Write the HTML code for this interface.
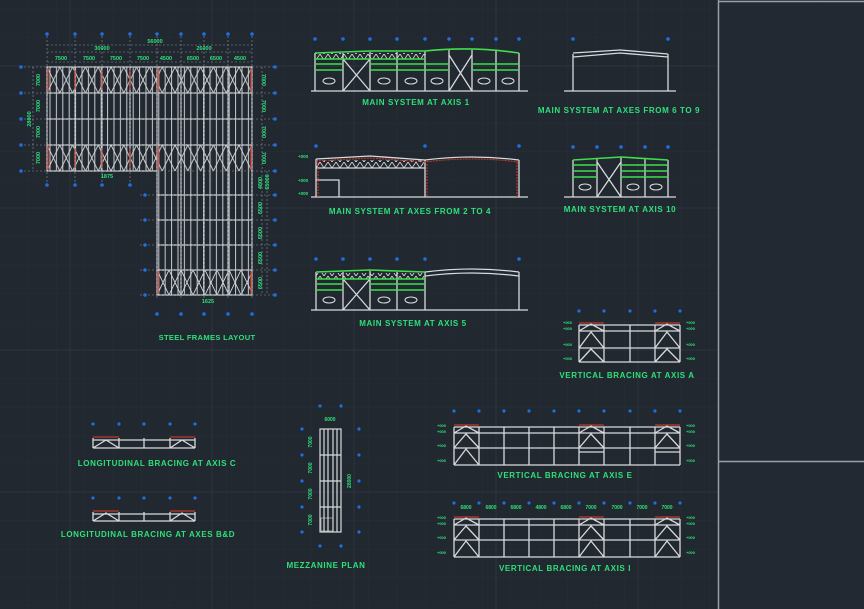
<!DOCTYPE html>
<html><head><meta charset="utf-8"><style>
html,body{margin:0;padding:0;background:#212830;}
svg{display:block}
text{font-family:"Liberation Sans",sans-serif;font-weight:bold;fill:#2ee07a}
</style></head><body>
<svg width="864" height="609" viewBox="0 0 864 609" xmlns="http://www.w3.org/2000/svg">
<defs>
<pattern id="minor" width="28.4" height="28.4" patternUnits="userSpaceOnUse" x="-0.8" y="9.2">
<path d="M0 0H28.4M0 0V28.4" stroke="#262e37" stroke-width="1" fill="none"/></pattern>
<pattern id="purl" width="6.4" height="10" patternUnits="userSpaceOnUse" x="47">
<line x1="3" y1="0" x2="3" y2="10" stroke="#c8ccd0" stroke-width="1"/></pattern>
<pattern id="xb" width="12.8" height="26" patternUnits="userSpaceOnUse" x="47" y="67">
<path d="M0 0L12.8 26M12.8 0L0 26" stroke="#d8dadc" stroke-width="0.9" fill="none"/></pattern>
<pattern id="xb3" width="12" height="25" patternUnits="userSpaceOnUse" x="157" y="270">
<path d="M0 0L12 25M12 0L0 25" stroke="#d8dadc" stroke-width="0.9" fill="none"/></pattern>
<pattern id="truss" width="8" height="6" patternUnits="userSpaceOnUse">
<path d="M0 0L4 6L8 0" stroke="#e0e0e0" stroke-width="0.8" fill="none"/></pattern>
</defs>
<rect width="864" height="609" fill="#212830"/>
<rect width="864" height="609" fill="url(#minor)"/>
<g stroke="#2d3540" stroke-width="1">
<line x1="70" y1="0" x2="70" y2="609"/><line x1="212" y1="0" x2="212" y2="609"/><line x1="354" y1="0" x2="354" y2="609"/><line x1="496" y1="0" x2="496" y2="609"/><line x1="638" y1="0" x2="638" y2="609"/>
<line x1="0" y1="66" x2="864" y2="66"/><line x1="0" y1="208" x2="864" y2="208"/><line x1="0" y1="350" x2="864" y2="350"/><line x1="0" y1="492" x2="864" y2="492"/>
</g>
<rect x="719" y="2" width="145" height="607" fill="#222932"/>
<g stroke="#9aa0a8" stroke-width="1.5"><line x1="718.5" y1="0" x2="718.5" y2="609"/><line x1="718" y1="1.5" x2="864" y2="1.5"/><line x1="718" y1="461.5" x2="864" y2="461.5"/></g>

<!-- STEEL FRAMES LAYOUT -->
<g>
<rect x="47" y="67" width="205" height="104" fill="url(#purl)"/>
<rect x="157" y="171" width="95" height="124" fill="url(#purl)"/>
<rect x="47" y="67" width="205" height="26" fill="url(#xb)"/>
<rect x="47" y="145" width="205" height="26" fill="url(#xb)"/>
<rect x="157" y="270" width="95" height="25" fill="url(#xb3)"/>
<g stroke="#d0d3d6" stroke-width="1.2" fill="none">
<path d="M47 67H252V295H157V171H47Z"/>
<path d="M47 93H252M47 119H252M47 145H252M157 195H252M157 220H252M157 245H252M157 270H252"/>
<path d="M75 67V171M102 67V171M130 67V171M157 67V171M181 67V295M204 67V295M228 67V295"/>
</g>
<g stroke="#c0392b" stroke-width="1.4"><path d="M48 68V92M48 146V170M158 68V92M158 146V170M251 68V92M251 146V170M158 271V294M251 271V294M75 70V90M102 70V90M130 70V90M75 148V168M102 148V168M130 148V168"/></g>
<g stroke="#8a8f95" stroke-width="0.6" stroke-dasharray="2 2" fill="none">
<path d="M47 36V185M75 36V185M102 36V185M130 36V185M157 36V300M181 36V300M204 36V300M228 36V300M252 36V300"/>
<path d="M20 67H275M20 93H275M20 119H275M20 145H275M20 171H275M140 195H275M140 220H275M140 245H275M140 270H275M140 295H275"/>
<path d="M47 45H252M47 52H157M157 52H252M47 62H252"/>
<path d="M33 67V171M267 171V295M262 67V171M262 171V295"/>
</g>
<g fill="#1f6fe0"><circle cx="47" cy="34" r="1.8"/><circle cx="75" cy="34" r="1.8"/><circle cx="102" cy="34" r="1.8"/><circle cx="130" cy="34" r="1.8"/><circle cx="157" cy="34" r="1.8"/><circle cx="181" cy="34" r="1.8"/><circle cx="204" cy="34" r="1.8"/><circle cx="228" cy="34" r="1.8"/><circle cx="252" cy="34" r="1.8"/>
<circle cx="47" cy="185" r="1.8"/><circle cx="75" cy="185" r="1.8"/><circle cx="102" cy="185" r="1.8"/><circle cx="130" cy="185" r="1.8"/>
<circle cx="157" cy="314" r="1.8"/><circle cx="181" cy="314" r="1.8"/><circle cx="204" cy="314" r="1.8"/><circle cx="228" cy="314" r="1.8"/><circle cx="252" cy="314" r="1.8"/>
<circle cx="21" cy="67" r="1.8"/><circle cx="21" cy="93" r="1.8"/><circle cx="21" cy="119" r="1.8"/><circle cx="21" cy="145" r="1.8"/><circle cx="21" cy="171" r="1.8"/>
<circle cx="275" cy="67" r="1.8"/><circle cx="275" cy="93" r="1.8"/><circle cx="275" cy="119" r="1.8"/><circle cx="275" cy="145" r="1.8"/><circle cx="275" cy="171" r="1.8"/><circle cx="275" cy="195" r="1.8"/><circle cx="275" cy="220" r="1.8"/><circle cx="275" cy="245" r="1.8"/><circle cx="275" cy="270" r="1.8"/><circle cx="275" cy="295" r="1.8"/>
<circle cx="145" cy="195" r="1.8"/><circle cx="145" cy="220" r="1.8"/><circle cx="145" cy="245" r="1.8"/><circle cx="145" cy="270" r="1.8"/><circle cx="145" cy="295" r="1.8"/></g>
<g font-size="5.5" text-anchor="middle">
<text x="155" y="43">56000</text><text x="102" y="50">30000</text><text x="204" y="50">26000</text>
<text x="61" y="60">7500</text><text x="89" y="60">7500</text><text x="116" y="60">7500</text><text x="143" y="60">7500</text>
<text x="166" y="60">4500</text><text x="193" y="60">6500</text><text x="216" y="60">6500</text><text x="240" y="60">4500</text>
<text x="107" y="178">1875</text><text x="208" y="303">1625</text>
<text transform="translate(40,80) rotate(-90)">7000</text><text transform="translate(40,106) rotate(-90)">7000</text><text transform="translate(40,132) rotate(-90)">7000</text><text transform="translate(40,158) rotate(-90)">7000</text>
<text transform="translate(31,119) rotate(-90)">28000</text>
<text transform="translate(262,80) rotate(90)">7000</text><text transform="translate(262,106) rotate(90)">7000</text><text transform="translate(262,132) rotate(90)">7000</text><text transform="translate(262,158) rotate(90)">7000</text>
<text transform="translate(262,183) rotate(-90)">4800</text><text transform="translate(262,208) rotate(-90)">6500</text><text transform="translate(262,233) rotate(-90)">6500</text><text transform="translate(262,258) rotate(-90)">6500</text><text transform="translate(262,283) rotate(-90)">6500</text>
<text transform="translate(269,182) rotate(-90)">65000</text>
</g>
<text x="207" y="340" font-size="7.6" text-anchor="middle" letter-spacing="0.3">STEEL FRAMES LAYOUT</text>
</g>

<!-- MAIN SYSTEM AT AXIS 1 -->
<g>
<g fill="#1f6fe0"><circle cx="315" cy="39" r="1.8"/><circle cx="343" cy="39" r="1.8"/><circle cx="370" cy="39" r="1.8"/><circle cx="397" cy="39" r="1.8"/><circle cx="425" cy="39" r="1.8"/><circle cx="449" cy="39" r="1.8"/><circle cx="472" cy="39" r="1.8"/><circle cx="496" cy="39" r="1.8"/><circle cx="519" cy="39" r="1.8"/></g>
<rect x="315" y="53" width="110" height="6" fill="url(#truss)"/>
<g stroke="#d8dadc" stroke-width="1.3" fill="none"><path d="M311 91H528M315 53V91M343 53V91M370 52V91M397 52V91M425 51V91M449 50V91M472 50V91M496 51V91M519 53V91"/>
<path d="M343 59L370 91M370 59L343 91M449 55L472 91M472 55L449 91"/></g>
<g stroke="#3ee04a" stroke-width="1.6" fill="none"><path d="M315 53L370 51L425 51Q472 46 519 53M315 59H425M315 64H343M370 64H449M472 64H519M315 70H343M370 70H449M472 70H519"/></g>
<g fill="none" stroke="#e0e0e0" stroke-width="1"><ellipse cx="329" cy="81" rx="6" ry="3"/><ellipse cx="384" cy="81" rx="6" ry="3"/><ellipse cx="411" cy="81" rx="6" ry="3"/><ellipse cx="437" cy="81" rx="6" ry="3"/><ellipse cx="484" cy="81" rx="6" ry="3"/><ellipse cx="508" cy="81" rx="6" ry="3"/></g>
<text x="416" y="105" font-size="8" text-anchor="middle" letter-spacing="0.6">MAIN SYSTEM AT AXIS 1</text>
</g>

<!-- AXES 6 TO 9 -->
<g>
<g fill="#1f6fe0"><circle cx="573" cy="39" r="1.8"/><circle cx="668" cy="39" r="1.8"/></g>
<g stroke="#d8dadc" stroke-width="1.3" fill="none"><path d="M564 91H676M573 54V91M668 54V91M573 53L620 50L668 54M573 57L620 53L668 57"/></g>
<text x="619" y="113" font-size="8" text-anchor="middle" letter-spacing="0.6">MAIN SYSTEM AT AXES FROM 6 TO 9</text>
</g>

<!-- AXES 2 TO 4 -->
<g>
<g fill="#1f6fe0"><circle cx="316" cy="146" r="1.8"/><circle cx="425" cy="146" r="1.8"/><circle cx="519" cy="146" r="1.8"/></g>
<rect x="316" y="160" width="108" height="8" fill="url(#truss)"/>
<g stroke="#d8dadc" stroke-width="1.3" fill="none"><path d="M311 197H528M316 159V197M425 160V197M519 160V197M316 180H339V197M316 159L370 156L425 160Q472 154 519 160M316 168H425"/></g>
<g stroke="#c0392b" stroke-width="1.1" fill="none" stroke-dasharray="2 1"><path d="M318 162V197M427 164V197M517 162V197M316 161L370 158L425 162Q472 156 519 162"/></g>
<g font-size="4.5"><text x="298" y="158">+000</text><text x="298" y="182">+000</text><text x="298" y="195">+000</text></g>
<text x="410" y="214" font-size="8" text-anchor="middle" letter-spacing="0.6">MAIN SYSTEM AT AXES FROM 2 TO 4</text>
</g>

<!-- AXIS 10 -->
<g>
<g fill="#1f6fe0"><circle cx="573" cy="147" r="1.8"/><circle cx="597" cy="147" r="1.8"/><circle cx="621" cy="147" r="1.8"/><circle cx="645" cy="147" r="1.8"/><circle cx="668" cy="147" r="1.8"/></g>
<g stroke="#d8dadc" stroke-width="1.3" fill="none"><path d="M564 197H676M573 160V197M597 158V197M621 157V197M645 158V197M668 160V197M597 162L621 197M621 162L597 197"/></g>
<g stroke="#3ee04a" stroke-width="1.6" fill="none"><path d="M573 160L621 157L668 160M573 165H597M621 165H668M573 171H597M621 171H668M573 177H597M621 177H668"/></g>
<g fill="none" stroke="#e0e0e0" stroke-width="1"><ellipse cx="585" cy="187" rx="6" ry="3"/><ellipse cx="633" cy="187" rx="6" ry="3"/><ellipse cx="656" cy="187" rx="6" ry="3"/></g>
<text x="620" y="212" font-size="8" text-anchor="middle" letter-spacing="0.6">MAIN SYSTEM AT AXIS 10</text>
</g>

<!-- AXIS 5 -->
<g>
<g fill="#1f6fe0"><circle cx="316" cy="259" r="1.8"/><circle cx="343" cy="259" r="1.8"/><circle cx="370" cy="259" r="1.8"/><circle cx="397" cy="259" r="1.8"/><circle cx="425" cy="259" r="1.8"/><circle cx="519" cy="259" r="1.8"/></g>
<rect x="316" y="273" width="108" height="6" fill="url(#truss)"/>
<g stroke="#d8dadc" stroke-width="1.3" fill="none"><path d="M311 310H528M316 272V310M343 272V310M370 271V310M397 272V310M425 272V310M519 272V310M425 272Q472 266 519 272M425 276Q472 270 519 276M343 279L370 310M370 279L343 310"/></g>
<g stroke="#3ee04a" stroke-width="1.6" fill="none"><path d="M316 272L370 270L425 272M316 279H425M316 284H343M370 284H425M316 290H343M370 290H425"/></g>
<g fill="none" stroke="#e0e0e0" stroke-width="1"><ellipse cx="329" cy="300" rx="6" ry="3"/><ellipse cx="384" cy="300" rx="6" ry="3"/><ellipse cx="411" cy="300" rx="6" ry="3"/></g>
<text x="413" y="326" font-size="8" text-anchor="middle" letter-spacing="0.6">MAIN SYSTEM AT AXIS 5</text>
</g>

<!-- VERTICAL BRACING AXIS A -->
<g>
<g fill="#1f6fe0"><circle cx="579" cy="311" r="1.6"/><circle cx="604" cy="311" r="1.6"/><circle cx="630" cy="311" r="1.6"/><circle cx="655" cy="311" r="1.6"/><circle cx="680" cy="311" r="1.6"/></g>
<g stroke="#d8dadc" stroke-width="1.3" fill="none"><path d="M579 325H680M579 331H680M579 348H680M579 362H680M579 325V362M604 325V362M630 325V362M655 325V362M680 325V362M579 331L591 324L604 331M579 348L591 332L604 348M579 362L591 349L604 362M655 331L667 324L680 331M655 348L667 332L680 348M655 362L667 349L680 362"/></g>
<g stroke="#c0392b" stroke-width="1.3"><path d="M579 323H604M655 323H680"/></g>
<g font-size="4" ><text x="563" y="324">+000</text><text x="563" y="330">+000</text><text x="563" y="346">+000</text><text x="563" y="360">+000</text><text x="686" y="324">+000</text><text x="686" y="330">+000</text><text x="686" y="346">+000</text><text x="686" y="360">+000</text></g>
<text x="627" y="378" font-size="8" text-anchor="middle" letter-spacing="0.6">VERTICAL BRACING AT AXIS A</text>
</g>

<!-- VERTICAL BRACING AXIS E -->
<g>
<g fill="#1f6fe0"><circle cx="454" cy="411" r="1.6"/><circle cx="479" cy="411" r="1.6"/><circle cx="504" cy="411" r="1.6"/><circle cx="529" cy="411" r="1.6"/><circle cx="554" cy="411" r="1.6"/><circle cx="579" cy="411" r="1.6"/><circle cx="604" cy="411" r="1.6"/><circle cx="630" cy="411" r="1.6"/><circle cx="655" cy="411" r="1.6"/><circle cx="680" cy="411" r="1.6"/></g>
<g stroke="#d8dadc" stroke-width="1.3" fill="none"><path d="M454 427H680M454 433H680M454 448H680M454 465H680M454 427V465M479 427V465M504 427V465M529 427V465M554 427V465M579 427V465M604 427V465M630 427V465M655 427V465M680 427V465M454 433L466 426L479 433M454 448L466 434L479 448M454 465L466 449L479 465M579 433L591 426L604 433M579 448L591 434L604 448M655 433L667 426L680 433M655 448L667 434L680 448M579 452H604M655 452H680"/></g>
<g stroke="#c0392b" stroke-width="1.3"><path d="M454 425H479M579 425H604M655 425H680"/></g>
<g font-size="4"><text x="437" y="427">+000</text><text x="437" y="433">+000</text><text x="437" y="447">+000</text><text x="437" y="462">+000</text><text x="686" y="427">+000</text><text x="686" y="433">+000</text><text x="686" y="447">+000</text><text x="686" y="462">+000</text></g>
<text x="565" y="478" font-size="8" text-anchor="middle" letter-spacing="0.6">VERTICAL BRACING AT AXIS E</text>
</g>

<!-- VERTICAL BRACING AXIS I -->
<g>
<g fill="#1f6fe0"><circle cx="454" cy="503" r="1.6"/><circle cx="479" cy="503" r="1.6"/><circle cx="504" cy="503" r="1.6"/><circle cx="529" cy="503" r="1.6"/><circle cx="554" cy="503" r="1.6"/><circle cx="579" cy="503" r="1.6"/><circle cx="604" cy="503" r="1.6"/><circle cx="630" cy="503" r="1.6"/><circle cx="655" cy="503" r="1.6"/><circle cx="680" cy="503" r="1.6"/></g>
<g font-size="5" text-anchor="middle"><text x="466" y="509">6800</text><text x="491" y="509">6800</text><text x="516" y="509">6800</text><text x="541" y="509">4800</text><text x="566" y="509">6800</text><text x="591" y="509">7000</text><text x="617" y="509">7000</text><text x="642" y="509">7000</text><text x="667" y="509">7000</text></g>
<g stroke="#d8dadc" stroke-width="1.3" fill="none"><path d="M454 519H680M454 525H680M454 540H680M454 557H680M454 519V557M479 519V557M504 519V557M529 519V557M554 519V557M579 519V557M604 519V557M630 519V557M655 519V557M680 519V557M454 525L466 518L479 525M454 540L466 526L479 540M454 557L466 541L479 557M579 525L591 518L604 525M579 540L591 526L604 540M579 557L591 541L604 557M655 525L667 518L680 525M655 540L667 526L680 540M655 557L667 541L680 557"/></g>
<g stroke="#c0392b" stroke-width="1.3"><path d="M454 517H479M579 517H604M655 517H680"/></g>
<g font-size="4"><text x="437" y="519">+000</text><text x="437" y="525">+000</text><text x="437" y="539">+000</text><text x="437" y="554">+000</text><text x="686" y="519">+000</text><text x="686" y="525">+000</text><text x="686" y="539">+000</text><text x="686" y="554">+000</text></g>
<text x="565" y="571" font-size="8" text-anchor="middle" letter-spacing="0.6">VERTICAL BRACING AT AXIS I</text>
</g>

<!-- LONGITUDINAL C -->
<g>
<g fill="#1f6fe0"><circle cx="93" cy="424" r="1.6"/><circle cx="119" cy="424" r="1.6"/><circle cx="144" cy="424" r="1.6"/><circle cx="170" cy="424" r="1.6"/><circle cx="195" cy="424" r="1.6"/></g>
<g stroke="#d8dadc" stroke-width="1.3" fill="none"><path d="M93 440H195M93 448H195M93 438V448M119 438V448M144 438V448M170 438V448M195 438V448M93 448L106 440L119 448M170 448L182 440L195 448"/></g>
<g stroke="#c0392b" stroke-width="1.3"><path d="M93 437H119M170 437H195"/></g>
<text x="157" y="466" font-size="8" text-anchor="middle" letter-spacing="0.6">LONGITUDINAL BRACING AT AXIS C</text>
</g>
<!-- LONGITUDINAL B&D -->
<g>
<g fill="#1f6fe0"><circle cx="93" cy="498" r="1.6"/><circle cx="119" cy="498" r="1.6"/><circle cx="144" cy="498" r="1.6"/><circle cx="170" cy="498" r="1.6"/><circle cx="195" cy="498" r="1.6"/></g>
<g stroke="#d8dadc" stroke-width="1.3" fill="none"><path d="M93 514H195M93 521H195M93 512V521M119 512V521M144 512V521M170 512V521M195 512V521M93 521L106 513L119 521M170 521L182 513L195 521"/></g>
<g stroke="#c0392b" stroke-width="1.3"><path d="M93 511H119M170 511H195"/></g>
<text x="148" y="537" font-size="8" text-anchor="middle" letter-spacing="0.6">LONGITUDINAL BRACING AT AXES B&amp;D</text>
</g>

<!-- MEZZANINE -->
<g>
<g fill="#1f6fe0"><circle cx="320" cy="406" r="1.6"/><circle cx="341" cy="406" r="1.6"/><circle cx="320" cy="546" r="1.6"/><circle cx="341" cy="546" r="1.6"/><circle cx="302" cy="429" r="1.6"/><circle cx="302" cy="455" r="1.6"/><circle cx="302" cy="481" r="1.6"/><circle cx="302" cy="507" r="1.6"/><circle cx="302" cy="532" r="1.6"/><circle cx="359" cy="429" r="1.6"/><circle cx="359" cy="455" r="1.6"/><circle cx="359" cy="481" r="1.6"/><circle cx="359" cy="507" r="1.6"/><circle cx="359" cy="532" r="1.6"/></g>
<g stroke="#d8dadc" stroke-width="1.2" fill="none"><rect x="320" y="429" width="21" height="103"/><path d="M324 429V532M328 429V532M333 429V532M337 429V532M320 455H341M320 481H341M320 507H341"/><rect x="321" y="518" width="12" height="13" stroke-width="0.6"/></g>
<g font-size="5" text-anchor="middle"><text x="330" y="421">6000</text><text transform="translate(312,442) rotate(-90)">7000</text><text transform="translate(312,468) rotate(-90)">7000</text><text transform="translate(312,494) rotate(-90)">7000</text><text transform="translate(312,520) rotate(-90)">7000</text><text transform="translate(351,481) rotate(-90)">28000</text></g>
<text x="326" y="568" font-size="8" text-anchor="middle" letter-spacing="0.6">MEZZANINE PLAN</text>
</g>
</svg>
</body></html>
